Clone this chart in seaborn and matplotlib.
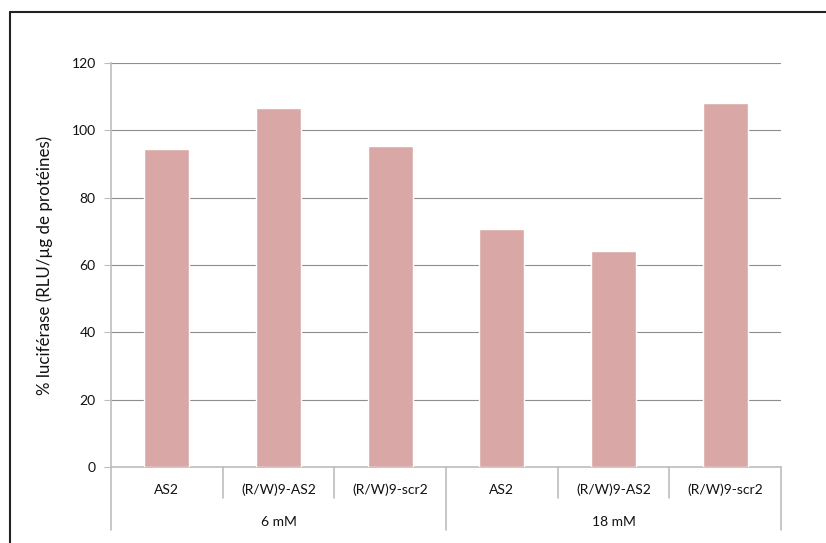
import matplotlib
matplotlib.use("Agg")
import matplotlib.pyplot as plt
from matplotlib.lines import Line2D
import seaborn as sns
import pandas as pd

# data
groups = ["6 mM", "6 mM", "6 mM", "18 mM", "18 mM", "18 mM"]
samples = ["AS2", "(R/W)9-AS2", "(R/W)9-scr2", "AS2", "(R/W)9-AS2", "(R/W)9-scr2"]
luciferase = [94.4, 106.6, 95.3, 70.7, 64.2, 108.0]
group_names = ["6 mM", "18 mM"]
y_ticks = [0, 20, 40, 60, 80, 100, 120]

bar_color = "#D9A7A5"
grid_color = "#8E8E8E"
axis_color = "#BDBDBD"
text_color = "#111111"

df = pd.DataFrame({"group": groups, "sample": samples, "value": luciferase})
df["key"] = df["group"] + " | " + df["sample"]

sns.set_style("white")
plt.rcParams["font.family"] = ["Lato", "DejaVu Sans"]

fig = plt.figure(figsize=(8.26, 5.43), dpi=100)
ax = fig.add_axes([111 / 826, 1 - 467 / 543, 670 / 826, 404 / 543])

sns.barplot(data=df, x="key", y="value", color=bar_color, width=0.4,
            saturation=1, ax=ax, zorder=3)

ax.set_ylim(0, 120)
ax.set_xlim(-0.5, len(df) - 0.5)
ax.set_yticks(y_ticks)
ax.set_yticklabels([str(t) for t in y_ticks], fontsize=10, color=text_color)
ax.tick_params(axis="y", length=5, width=0.8, color=axis_color, pad=6, left=True)
ax.set_xticks([])
ax.set_xlabel("")
ax.set_ylabel("% luciférase (RLU/µg de protéines)", fontsize=12.2,
              color=text_color, labelpad=13)

ax.yaxis.grid(True, color=grid_color, linewidth=0.8, zorder=0)
ax.set_axisbelow(True)
for side in ["top", "right"]:
    ax.spines[side].set_visible(False)
ax.spines["left"].set_color(axis_color)
ax.spines["left"].set_linewidth(1.2)
ax.spines["bottom"].set_color(axis_color)
ax.spines["bottom"].set_linewidth(1.2)

# two-level category axis
trans = ax.get_xaxis_transform()
for i, s in enumerate(samples):
    ax.text(i, -0.057, s, transform=trans, ha="center", va="center",
            fontsize=10, color=text_color)
for i in range(len(samples) + 1):
    outer = i % 3 == 0
    ax.add_line(Line2D([i - 0.5, i - 0.5], [0, -0.156 if outer else -0.077],
                       transform=trans, color=axis_color, linewidth=1.2,
                       clip_on=False))
for g, name in enumerate(group_names):
    ax.text(g * 3 + 1, -0.136, name, transform=trans, ha="center",
            va="center", fontsize=10, color=text_color)

# outer frame of the chart area
fig.add_artist(Line2D([10 / 826, 10 / 826], [0, 1 - 12 / 543],
                      transform=fig.transFigure, color="#222222", linewidth=1.5))
fig.add_artist(Line2D([10 / 826, 1], [1 - 12 / 543, 1 - 12 / 543],
                      transform=fig.transFigure, color="#222222", linewidth=1.5))

fig.savefig("out.png", dpi=100)
